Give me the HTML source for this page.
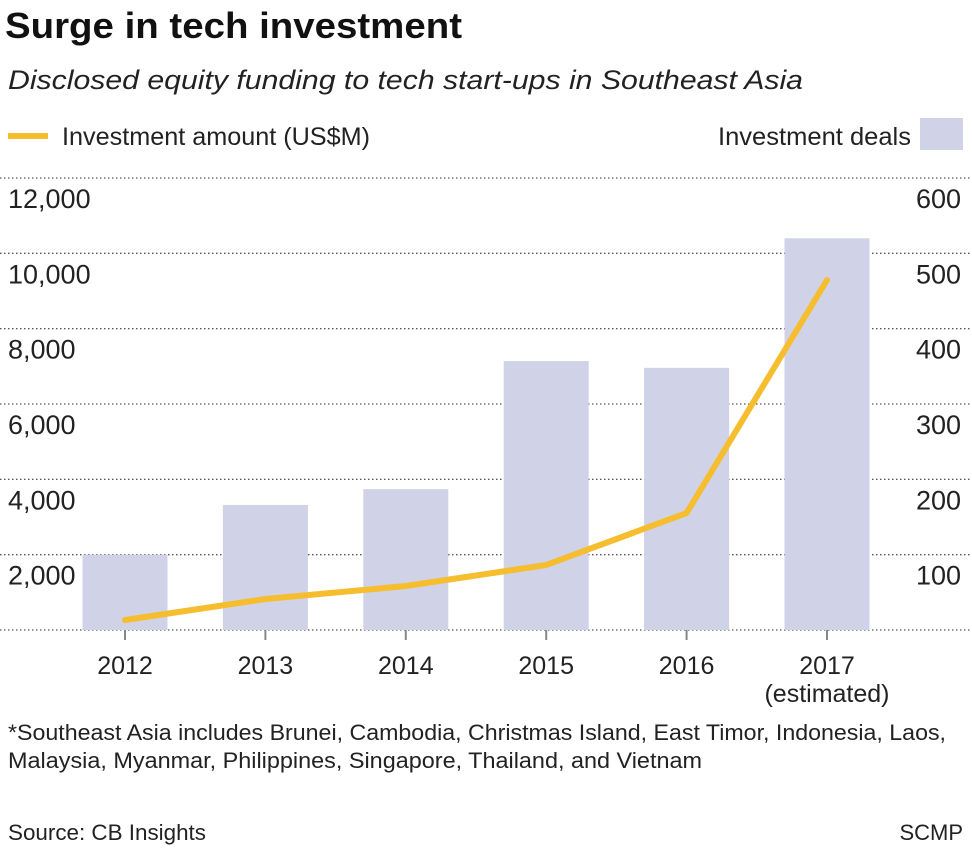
<!DOCTYPE html>
<html><head><meta charset="utf-8"><style>
html,body{margin:0;padding:0;background:#fff;}
svg{display:block;font-family:"Liberation Sans",sans-serif;}
</style></head><body>
<svg id="c" width="972" height="850" viewBox="0 0 972 850">
<text x="5" y="38" font-size="36" font-weight="bold" fill="#111" textLength="457" lengthAdjust="spacingAndGlyphs">Surge in tech investment</text>
<text x="8" y="89" font-size="27" font-style="italic" fill="#222" textLength="795" lengthAdjust="spacingAndGlyphs">Disclosed equity funding to tech start-ups in Southeast Asia</text>
<g>
<line x1="8" y1="136" x2="48" y2="136" stroke="#f6bd2f" stroke-width="6"/>
<text x="62" y="145" font-size="25" fill="#222" textLength="308" lengthAdjust="spacingAndGlyphs">Investment amount (US$M)</text>
<text x="718" y="145" font-size="25" fill="#222" textLength="193" lengthAdjust="spacingAndGlyphs">Investment deals</text>
<rect x="920" y="118" width="43" height="32" fill="#d0d3e8"/>
</g>
<g id="grid"></g><g id="bars"></g><g id="line"></g><g id="axes"></g>
<text x="8" y="740" font-size="22" fill="#222" textLength="938" lengthAdjust="spacingAndGlyphs">*Southeast Asia includes Brunei, Cambodia, Christmas Island, East Timor, Indonesia, Laos,</text>
<text x="8" y="768" font-size="22" fill="#222" textLength="694" lengthAdjust="spacingAndGlyphs">Malaysia, Myanmar, Philippines, Singapore, Thailand, and Vietnam</text>
<text x="8" y="840" font-size="22" fill="#222" textLength="198" lengthAdjust="spacingAndGlyphs">Source: CB Insights</text>
<text x="963" y="840" font-size="22" fill="#222" text-anchor="end">SCMP</text>
</svg>
<script>
const years=["2012","2013","2014","2015","2016","2017"];
const deals=[100,166,187,357,348,520];
const amounts=[265,823,1168,1726,3106,9292];
const leftTicks=[0,2000,4000,6000,8000,10000,12000];
const rightTicks=[0,100,200,300,400,500,600];
const NS="http://www.w3.org/2000/svg";
const y0=630,yTop=178;
const yL=v=>y0-(v/12000)*(y0-yTop);
const yR=v=>y0-(v/600)*(y0-yTop);
const xC=i=>125+i*140.4;
function mk(t,a,p){const e=document.createElementNS(NS,t);for(const k in a)e.setAttribute(k,a[k]);document.getElementById(p).appendChild(e);return e;}
leftTicks.forEach((v,i)=>{
 const g=mk("line",{x1:0,x2:972,y1:yL(v),y2:yL(v),stroke:"#555","stroke-width":1.3,"stroke-dasharray":"1.5 2.5"},"grid");
 
 
 if(v>0){
  const t=mk("text",{x:8,y:yL(v)+30,"font-size":27,fill:"#222"},"axes");t.textContent=v.toLocaleString("en-US");
  
  
  const r=mk("text",{x:961,y:yR(rightTicks[i])+30,"font-size":27,fill:"#222","text-anchor":"end"},"axes");r.textContent=rightTicks[i];
  
  
 }
});
years.forEach((yr,i)=>{
 const b=mk("rect",{x:xC(i)-42.5,y:yR(deals[i]),width:85,height:y0-yR(deals[i]),fill:"#d0d3e8"},"bars");
 
 
 const tk=mk("line",{x1:xC(i),x2:xC(i),y1:y0,y2:y0+10,stroke:"#888","stroke-width":2},"axes");
 
 
 const t=mk("text",{x:xC(i),y:674,"font-size":25,fill:"#222","text-anchor":"middle"},"axes");t.textContent=yr;
 
 
});
const e=mk("text",{x:xC(5),y:702,"font-size":25,fill:"#222","text-anchor":"middle"},"axes");e.textContent="(estimated)";


const pl=mk("polyline",{points:amounts.map((v,i)=>xC(i)+","+yL(v)).join(" "),fill:"none",stroke:"#f6bd2f","stroke-width":6,"stroke-linejoin":"round","stroke-linecap":"round"},"line");


</script>
</body></html>
